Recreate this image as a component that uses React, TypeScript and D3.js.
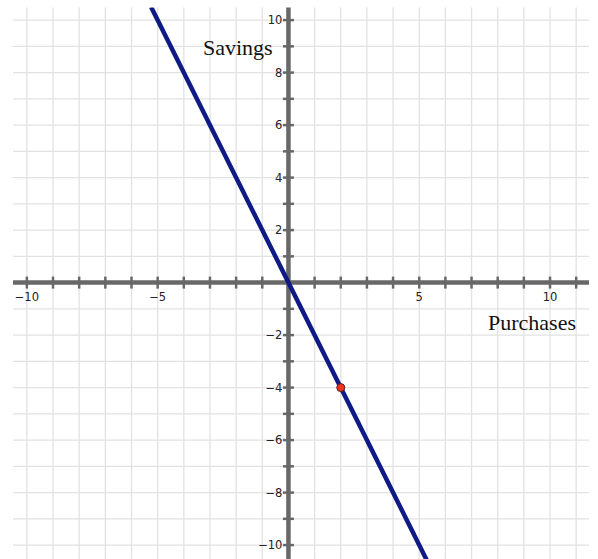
import React from "react";
import * as d3 from "d3";

const xDomain: [number, number] = [-10.53, 11.49];
const yDomain: [number, number] = [-10.53, 10.48];
const xTickLabels = [-10, -5, 5, 10];
const yTickLabels = [-10, -8, -6, -4, -2, 2, 4, 6, 8, 10];
const lineSlope = -2;
const lineYRange: [number, number] = [10.5, -10.8];
const pointX = [2];
const pointY = [-4];
const xTitle = "Purchases";
const yTitle = "Savings";

const W = 598;
const H = 559;

export default function App() {
  const x = d3.scaleLinear().domain(xDomain).range([13, 589]);
  const y = d3.scaleLinear().domain(yDomain).range([559, 7.5]);

  const xInts = d3.range(Math.ceil(xDomain[0]), Math.floor(xDomain[1]) + 1);
  const yInts = d3.range(Math.ceil(yDomain[0]), Math.floor(yDomain[1]) + 1);

  const lineData: [number, number][] = lineYRange.map((yy) => [yy / lineSlope, yy]);
  const lineGen = d3
    .line<[number, number]>()
    .x((d) => x(d[0]))
    .y((d) => y(d[1]));

  const fmt = (v: number) => (v < 0 ? "\u2212" + Math.abs(v) : String(v));
  const x0 = x(0);
  const y0 = y(0);
  const axisColor = "#686868";
  const tickFont = "'DejaVu Sans', sans-serif";
  const serif = "'Liberation Serif', 'Times New Roman', serif";

  return (
    <svg
      width={W}
      height={H}
      style={{ position: "absolute", left: 0, top: 0, background: "#fff" }}
    >
      <defs>
        <clipPath id="plot">
          <rect x={x.range()[0]} y={y.range()[1]} width={x.range()[1] - x.range()[0]} height={y.range()[0] - y.range()[1]} />
        </clipPath>
      </defs>
      <g stroke="#e2e2e2" strokeWidth={1.3}>
        {xInts.map((v) => (
          <line key={"gx" + v} x1={x(v)} x2={x(v)} y1={y.range()[1]} y2={y.range()[0]} />
        ))}
        {yInts.map((v) => (
          <line key={"gy" + v} y1={y(v)} y2={y(v)} x1={x.range()[0]} x2={x.range()[1]} />
        ))}
      </g>
      <line x1={x.range()[0]} x2={x.range()[1]} y1={y0} y2={y0} stroke={axisColor} strokeWidth={4.5} />
      <line x1={x0} x2={x0} y1={y.range()[1]} y2={y.range()[0]} stroke={axisColor} strokeWidth={4.5} />
      <g stroke={axisColor} strokeWidth={2.5}>
        {xInts.filter((v) => v !== 0).map((v) => (
          <line key={"tx" + v} x1={x(v)} x2={x(v)} y1={y0 - 6} y2={y0 + 6} />
        ))}
        {yInts.filter((v) => v !== 0).map((v) => (
          <line key={"ty" + v} y1={y(v)} y2={y(v)} x1={x0 - 5.5} x2={x0 + 5.5} />
        ))}
      </g>
      <g fontFamily={tickFont} fontSize={11.5} fill="#222">
        {xTickLabels.map((v) => (
          <text key={"lx" + v} x={x(v)} y={y0 + 18} textAnchor="middle">
            {fmt(v)}
          </text>
        ))}
        {yTickLabels.map((v) => (
          <text key={"ly" + v} x={x0 - 6} y={y(v) + 4} textAnchor="end">
            {fmt(v)}
          </text>
        ))}
      </g>
      <text x={203} y={55} fontFamily={serif} fontSize={22} fill="#111">
        {yTitle}
      </text>
      <text x={576} y={330} textAnchor="end" fontFamily={serif} fontSize={22} fill="#111">
        {xTitle}
      </text>
      <g clipPath="url(#plot)">
        <path d={lineGen(lineData) || ""} fill="none" stroke="#0f1a85" strokeWidth={4.5} />
      </g>
      {pointX.map((px, i) => (
        <circle key={"p" + i} cx={x(px)} cy={y(pointY[i])} r={4} fill="#ee3322" stroke="#5a1a10" strokeWidth={1} />
      ))}
    </svg>
  );
}
